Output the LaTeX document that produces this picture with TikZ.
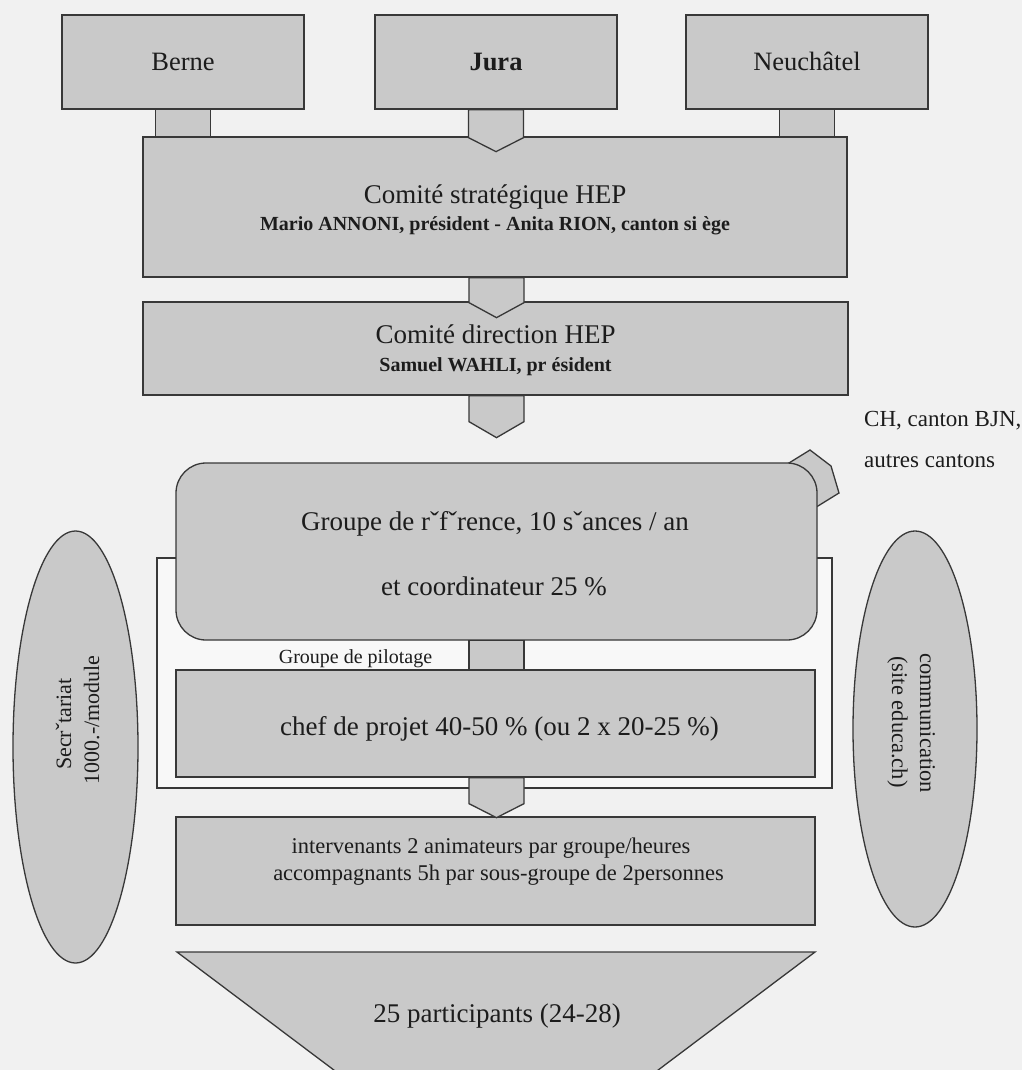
\documentclass[tikz,border=0pt]{standalone}
\usepackage{fontspec}
\setmainfont{Liberation Serif}
\usetikzlibrary{calc,shapes.geometric}
\definecolor{boxgray}{HTML}{C9C9C9}
\definecolor{edge}{HTML}{383838}
\definecolor{paper}{HTML}{F1F1F1}
\definecolor{framefill}{HTML}{F8F8F8}
\definecolor{ink}{HTML}{1C1C1C}
\newcommand\fsz[1]{\fontsize{#1pt}{#1pt}\selectfont}
\begin{document}
\begin{tikzpicture}[x=1pt,y=-1pt,
  box/.style={draw=edge,fill=boxgray,line width=1.3pt,inner sep=0pt},
  conn/.style={draw=edge,fill=boxgray,line width=1.3pt},
  framebox/.style={draw=edge,fill=framefill,line width=1.3pt,inner sep=0pt},
  txt/.style={text=ink,inner sep=0pt,anchor=base},
  pics/chevron/.style n args={2}{code={
    \filldraw[conn] (-27.5,0) -- (-27.5,#1) -- (0,#1+#2) -- (27.5,#1) -- (27.5,0) -- cycle;}}
]
\useasboundingbox (0,0) rectangle (1022,1070);
\clip (0,0) rectangle (1022,1070);
\fill[paper] (0,0) rectangle (1022,1070);

% top boxes
\node[box,minimum width=242pt,minimum height=94pt] (berne) at (183,62) {};
\node[box,minimum width=242pt,minimum height=94pt] (jura) at (496,62) {};
\node[box,minimum width=242pt,minimum height=94pt] (neuch) at (807,62) {};
\node[txt,font=\fsz{26.5}] (berneT) at (183,71) {Berne};
\node[txt,font=\fsz{26.5}\bfseries] (juraT) at (496,71) {Jura};
\node[txt,font=\fsz{26.5}] (neuchT) at (807,71) {Neuchâtel};

% comite strategique
\node[box,minimum width=704pt,minimum height=140pt] (strat) at (495,207) {};
\filldraw[conn] ($(berne.south)+(-27.5,0)$) rectangle ($(berne.south |- strat.north)+(27.5,0)$);
\filldraw[conn] ($(neuch.south)+(-27.5,0)$) rectangle ($(neuch.south |- strat.north)+(27.5,0)$);
\pic at (jura.south) {chevron={28}{14}};
\node[txt,font=\fsz{27}] (stratT) at (495,203) {Comité stratégique HEP};
\node[txt,font=\fsz{20}\bfseries] (stratS) at (495,230) {Mario ANNONI, président - Anita RION, canton si ège};

% comite direction
\node[box,minimum width=705pt,minimum height=93pt] (direc) at (495.5,348.5) {};
\pic at ($(strat.south)+(1.5,0)$) {chevron={25}{15}};
\node[txt,font=\fsz{27}] (direcT) at (495.5,343) {Comité direction HEP};
\node[txt,font=\fsz{20}\bfseries] (direcS) at (495.5,371) {Samuel WAHLI, pr ésident};
\pic at ($(direc.south)+(1,0)$) {chevron={26}{16}};

% groupe de pilotage frame
\node[framebox,minimum width=675pt,minimum height=230pt] (pilot) at (494.5,673) {};

% arrow to other cantons
\filldraw[conn] (776,471) -- (810,450) -- (831,466) -- (839,493) -- (805,514) -- cycle;

% groupe de reference
\node[box,rounded corners=30pt,minimum width=641pt,minimum height=177pt] (groupe) at (496.5,551.5) {};
\node[txt,font=\fsz{27}] (groupeT) at (495,530) {Groupe de rˇfˇrence, 10 sˇances / an};
\node[txt,font=\fsz{27}] (groupeS) at (494,595) {et coordinateur 25 \%};

% chef de projet
\node[box,minimum width=639pt,minimum height=107pt] (chef) at (495.5,723.5) {};
\filldraw[conn] ($(groupe.south)+(-27.5,0)$) rectangle ($(groupe.south |- chef.north)+(27.5,0)$);
\node[txt,font=\fsz{20}] (pilotT) at (355.5,663) {Groupe de pilotage};
\node[txt,font=\fsz{27}] (chefT) at (499.5,735) {chef de projet 40-50 \% (ou 2 x 20-25 \%)};

% intervenants
\node[box,minimum width=639pt,minimum height=108pt] (interv) at (495.5,871) {};
\pic at ($(chef.south)+(1,0)$) {chevron={26}{14}};
\node[txt,font=\fsz{22.5}] (intervT) at (491,853) {intervenants 2 animateurs par groupe/heures};
\node[txt,font=\fsz{22.5}] (intervS) at (498.5,880) {accompagnants 5h par sous-groupe de 2personnes};

% participants
\filldraw[conn] (177,952) coordinate (triL) -- (815,952) coordinate (triR) -- (496,1192) coordinate (triB) -- cycle;
\node[txt,font=\fsz{27}] (partT) at (497,1022) {25 participants (24-28)};

% side ellipses
\node[box,ellipse,minimum width=125pt,minimum height=432pt] (secr) at (75.5,747) {};
\node[txt,font=\fsz{22},rotate=90] (secrA) at (71,724) {Secrˇtariat};
\node[txt,font=\fsz{22},rotate=90] (secrB) at (99,720) {1000.-/module};
\node[box,ellipse,minimum width=124pt,minimum height=396pt] (comm) at (915,729) {};
\node[txt,font=\fsz{22.5},rotate=-90] (commA) at (920,723) {communication};
\node[txt,font=\fsz{22.5},rotate=-90] (commB) at (892,722) {(site educa.ch)};

% other cantons label
\node[txt,anchor=base west,font=\fsz{23}] (chT) at (864,426) {CH, canton BJN,};
\node[txt,anchor=base west,font=\fsz{23}] (autT) at (864,467) {autres cantons};
\end{tikzpicture}
\end{document}
